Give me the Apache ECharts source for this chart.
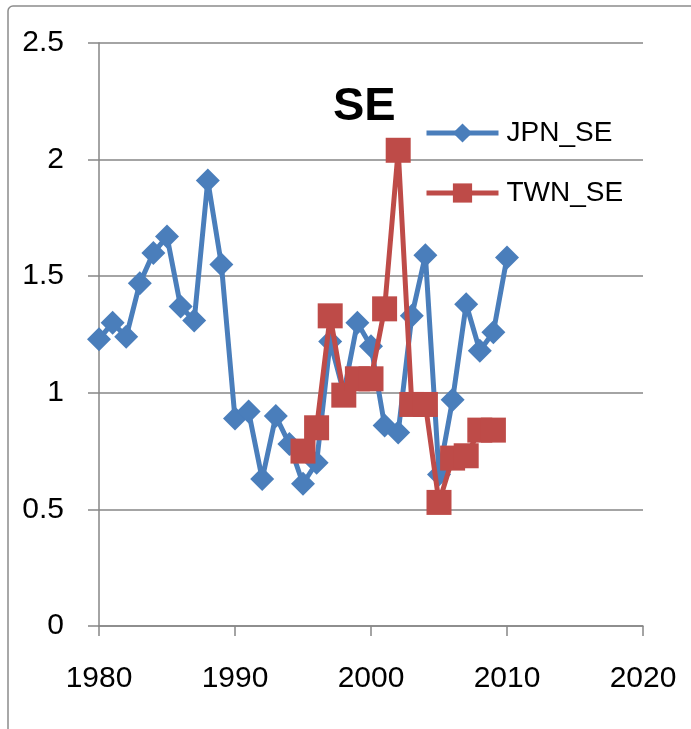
<!DOCTYPE html>
<html>
<head>
<meta charset="utf-8">
<script src="https://cdn.jsdelivr.net/npm/echarts@6/dist/echarts.min.js"></script>
<style>
  html, body { margin: 0; padding: 0; background: #fff; }
  #chart { width: 691px; height: 729px; }
</style>
</head>
<body>
<div id="chart"></div>
<script>
// Yearly SE values for Japan and Taiwan
const jpnYears = [1980, 1981, 1982, 1983, 1984, 1985, 1986, 1987, 1988, 1989,
                  1990, 1991, 1992, 1993, 1994, 1995, 1996, 1997, 1998, 1999,
                  2000, 2001, 2002, 2003, 2004, 2005, 2006, 2007, 2008, 2009, 2010];
const jpnSE = [1.23, 1.30, 1.24, 1.47, 1.60, 1.67, 1.37, 1.31, 1.91, 1.55,
               0.89, 0.92, 0.63, 0.90, 0.78, 0.61, 0.70, 1.22, 1.00, 1.30,
               1.20, 0.86, 0.83, 1.33, 1.59, 0.65, 0.97, 1.38, 1.18, 1.26, 1.58];

const twnYears = [1995, 1996, 1997, 1998, 1999, 2000, 2001, 2002,
                  2003, 2004, 2005, 2006, 2007, 2008, 2009];
const twnSE = [0.75, 0.85, 1.33, 0.99, 1.06, 1.06, 1.36, 2.04,
               0.95, 0.95, 0.53, 0.72, 0.73, 0.84, 0.84];

const seriesNames = ['JPN_SE', 'TWN_SE'];
const chartTitle = 'SE';

const pair = (xs, ys) => xs.map((x, i) => [x, ys[i]]);

const labelFont = '"Liberation Sans", Arial, sans-serif';
const gridColor = '#868686';
const blue = '#4a7ebb';
const red = '#be4b48';

const chart = echarts.init(document.getElementById('chart'), null, { renderer: 'canvas' });

chart.setOption({
  backgroundColor: '#ffffff',
  animation: false,
  graphic: [{
    type: 'rect',
    shape: { x: 8, y: 6, width: 900, height: 900, r: 5 },
    style: { fill: 'none', stroke: '#8c8c8c', lineWidth: 1.5 },
    z: -1
  }],
  title: {
    text: chartTitle,
    left: 328,
    top: 79,
    textStyle: {
      fontFamily: labelFont,
      fontWeight: 'bold',
      fontSize: 47,
      color: '#000'
    }
  },
  legend: {
    orient: 'vertical',
    left: 419,
    top: 114,
    itemWidth: 72,
    itemHeight: 24,
    itemGap: 32,
    lineStyle: { width: 5 },
    textStyle: {
      fontFamily: labelFont,
      fontSize: 28,
      color: '#000',
      padding: [0, 0, 0, 3]
    },
    data: seriesNames
  },
  grid: {
    left: 99,
    right: 48,
    top: 43,
    bottom: 103,
    containLabel: false
  },
  xAxis: {
    type: 'value',
    min: 1980,
    max: 2020,
    interval: 10,
    axisLine: { show: true, onZero: false, lineStyle: { color: gridColor, width: 1.5 } },
    axisTick: { show: true, inside: false, length: 10, lineStyle: { color: gridColor, width: 1.5 } },
    splitLine: { show: false },
    axisLabel: {
      margin: 38,
      fontFamily: labelFont,
      fontSize: 30,
      color: '#000',
      formatter: v => String(v)
    }
  },
  yAxis: {
    type: 'value',
    min: 0,
    max: 2.5,
    interval: 0.5,
    axisLine: { show: true, lineStyle: { color: gridColor, width: 1.5 } },
    axisTick: { show: true, inside: false, length: 11, lineStyle: { color: gridColor, width: 1.5 } },
    splitLine: { show: true, lineStyle: { color: gridColor, width: 1.5 } },
    axisLabel: {
      margin: 35,
      fontFamily: labelFont,
      fontSize: 30,
      color: '#000'
    }
  },
  series: [
    {
      name: seriesNames[0],
      type: 'line',
      data: pair(jpnYears, jpnSE),
      symbol: 'diamond',
      symbolSize: 24,
      showAllSymbol: true,
      lineStyle: { color: blue, width: 5 },
      itemStyle: { color: blue },
      z: 2
    },
    {
      name: seriesNames[1],
      type: 'line',
      data: pair(twnYears, twnSE),
      symbol: 'rect',
      symbolSize: 25,
      showAllSymbol: true,
      lineStyle: { color: red, width: 5 },
      itemStyle: { color: red },
      z: 3
    }
  ]
});
</script>
</body>
</html>
